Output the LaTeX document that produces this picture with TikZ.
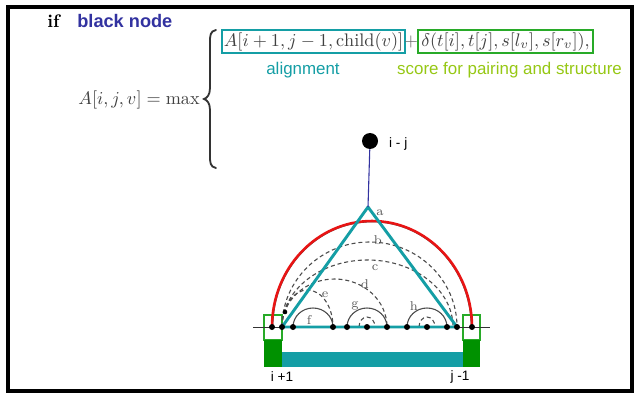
\documentclass[tikz,border=0pt]{standalone}
\usepackage{amsmath}
\usepackage{fontspec}
\usepackage{tikz}
\usetikzlibrary{positioning}
\newfontfamily\labelsans{Liberation Sans}
\definecolor{alignteal}{RGB}{20,158,165}
\definecolor{scoregreen}{RGB}{40,170,40}
\definecolor{capgreen}{RGB}{0,145,0}
\definecolor{limetext}{RGB}{150,200,20}
\definecolor{nodeblue}{RGB}{50,50,160}
\definecolor{arcred}{RGB}{232,20,20}

\begin{document}
\begin{tikzpicture}[
      x=0.55pt, y=0.55pt,
      sans/.style={font=\labelsans\fontsize{9.3}{11}\selectfont, inner sep=0pt},
      tag/.style={font=\labelsans\fontsize{7.5}{9}\selectfont, inner sep=1pt},
      termbox/.style={draw, line width=1.1pt, minimum height=12.6pt,
        inner sep=1pt, text=black!75},
      dot/.style={circle, fill=black, inner sep=0pt, minimum size=3.3pt},
      arclbl/.style={font=\fontsize{7}{8}\selectfont, text=black!65, inner sep=0pt},
      pairarc/.style={black!70, semithick},
      subarc/.style={black!70, semithick, dash pattern=on 2.2pt off 1.6pt},
      capbox/.style={draw=scoregreen, line width=0.8pt, fill=white}
    ]
    \useasboundingbox (0,0) rectangle (637,-394);
    \fill[white] (0,0) rectangle (637,-394);
    \draw[line width=2.2pt] (8,-7) rectangle (632,-391);

    % recurrence
    \node[font=\bfseries, anchor=base west, inner sep=0pt] (ifword) at (47,-28) {if};
    \node[font=\labelsans\bfseries\fontsize{10}{12}\selectfont, text=nodeblue,
      anchor=base west, inner sep=0pt] (kind) at (77,-28) {black node};
    \node[anchor=east, inner sep=0pt, text=black!75] (lhs) at (200,-100) {$A[i,j,v] = \max$};
    \draw[black!80, line width=1pt, line cap=round]
      (216,-30) .. controls (210,-31) and (210,-36) .. (210,-42)
      -- (210,-88) .. controls (210,-95) and (207,-98) .. (204,-99)
      .. controls (207,-100) and (210,-103) .. (210,-110)
      -- (210,-156) .. controls (210,-162) and (210,-167) .. (216,-168);
    \node[termbox, draw=alignteal, minimum width=100.6pt] (align) at (313.5,-41.5)
      {$A[i+1,j-1,\mathrm{child}(v)]$};
    \node[inner sep=0pt, text=black!60] (plus) at (411,-42) {$+$};
    \node[termbox, draw=scoregreen, minimum width=96pt] (delta) at (505.5,-41.5)
      {$\delta(t[i],t[j],s[l_v],s[r_v]),$};
    \node[sans, text=alignteal] (alignlbl) at (303,-70) {alignment};
    \node[sans, text=limetext] (scorelbl) at (509.5,-70) {score for pairing and structure};

    % tree node and its subtree
    \node[dot, minimum size=8.8pt] (v) at (370,-141) {};
    \node[tag, anchor=west] (vlbl) at (387,-144) {i - j};
    \coordinate (apex) at (368,-207);
    \coordinate (lineL) at (253,-327);
    \coordinate (lineR) at (490,-327);
    \foreach \x [count=\k] in {272,282,293,333,347,367,387,407,427,447,457,472}
      \coordinate (p\k) at (\x,-327);

    \draw[capbox] (264,-315) rectangle (282,-340);
    \draw[capbox] (463,-315) rectangle (480,-340);
    \fill[capgreen] (264,-340) rectangle (282,-367);
    \fill[capgreen] (463,-340) rectangle (480,-367);
    \fill[alignteal] (282,-352) rectangle (463,-367);

    \draw[black!70, thin] (p1) ++(1,0) arc[start angle=180, end angle=0, x radius=99, y radius=105];
    \draw[arcred, line width=1.4pt] (p1) arc[start angle=180, end angle=0, x radius=100, y radius=106];

    \draw[subarc] (p2) arc[start angle=180, end angle=0, x radius=87.5, y radius=85];
    \draw[subarc] (p2) arc[start angle=180, end angle=0, x radius=85.5, y radius=67];
    \draw[subarc] (p2) arc[start angle=180, end angle=0, x radius=52.5, y radius=48];
    \draw[subarc] (p2) arc[start angle=180, end angle=0, x radius=25.5, y radius=37];
    \draw[pairarc] (p3) arc[start angle=180, end angle=0, x radius=20, y radius=19];
    \draw[pairarc] (p5) arc[start angle=180, end angle=0, x radius=20, y radius=19];
    \draw[pairarc] (p8) arc[start angle=180, end angle=0, x radius=20, y radius=19];
    \draw[subarc] (p6) ++(-8,0) arc[start angle=180, end angle=0, x radius=8, y radius=10];
    \draw[subarc] (p9) ++(-8,0) arc[start angle=180, end angle=0, x radius=8, y radius=10];

    \draw[black!80, thin] (lineL) -- (lineR);
    \draw[alignteal, line width=1.6pt, line join=round] (apex) -- (p2) -- (p11) -- cycle;
    \draw[nodeblue, semithick] (v) -- (apex);

    \foreach \k in {1,...,12}
      \node[dot] (d\k) at (p\k) {};
    \node[dot, minimum size=2.5pt] (q) at (285,-312) {};

    \node[arclbl] (la) at (380,-213) {a};
    \node[arclbl] (lb) at (378,-240) {b};
    \node[arclbl] (lc) at (375,-268) {c};
    \node[arclbl] (ld) at (365,-284) {d};
    \node[arclbl] (le) at (325,-295) {e};
    \node[arclbl] (lf) at (309,-320) {f};
    \node[arclbl] (lg) at (355,-306) {g};
    \node[arclbl] (lh) at (414,-306) {h};

    \node[tag] (ilbl) at (282,-377) {i +1};
    \node[tag] (jlbl) at (460,-377) {j -1};
  \end{tikzpicture}
\end{document}
